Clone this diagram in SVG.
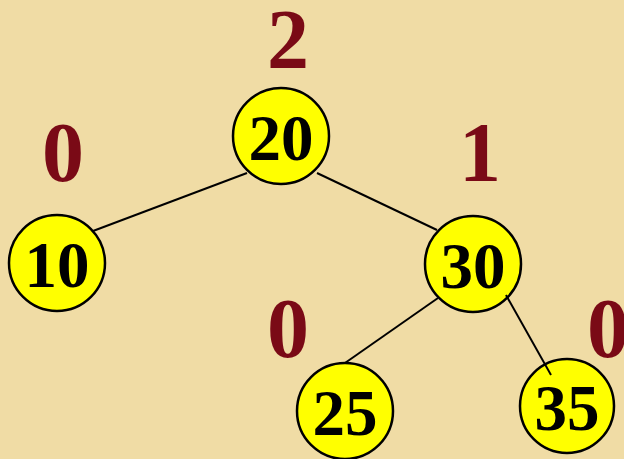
<svg xmlns="http://www.w3.org/2000/svg" width="624" height="459" viewBox="0 0 624 459">
<style>
.n{fill:#FFFF00;stroke:#000;stroke-width:2.5}
.t{font-family:"Liberation Serif","Times New Roman",serif;font-weight:bold;font-size:65px;fill:#000;text-anchor:middle}
.b{font-family:"Liberation Serif","Times New Roman",serif;font-weight:bold;font-size:84px;fill:#7A0A16;text-anchor:middle}
.e{stroke:#000;stroke-width:2;fill:none}
</style>
<rect width="624" height="459" fill="#F0DCA5"/>
<g id="balance-labels">
<text class="b" x="288" y="68">2</text>
<text class="b" x="63" y="181">0</text>
<text class="b" x="480" y="181">1</text>
<text class="b" x="288" y="357">0</text>
<text class="b" x="608" y="357">0</text>
</g>
<g id="node-20"><circle class="n" cx="281" cy="136" r="48"/><text class="t" x="281" y="160">20</text></g>
<g id="node-10"><circle class="n" cx="57" cy="263" r="48"/><text class="t" x="57" y="287">10</text></g>
<g id="node-30"><circle class="n" cx="473" cy="264" r="48"/><text class="t" x="473" y="288">30</text></g>
<g id="node-25"><circle class="n" cx="345" cy="411" r="48"/><text class="t" x="345" y="435">25</text></g>
<g id="node-35"><circle class="n" cx="567" cy="406" r="47"/><text class="t" x="567" y="430">35</text></g>
<g id="connectors">
<line class="e" x1="247" y1="173" x2="93" y2="231"/>
<line class="e" x1="317" y1="173" x2="437" y2="230"/>
<line class="e" x1="438" y1="298" x2="345" y2="363"/>
<line class="e" x1="506" y1="295" x2="551" y2="375"/>
</g>
</svg>
